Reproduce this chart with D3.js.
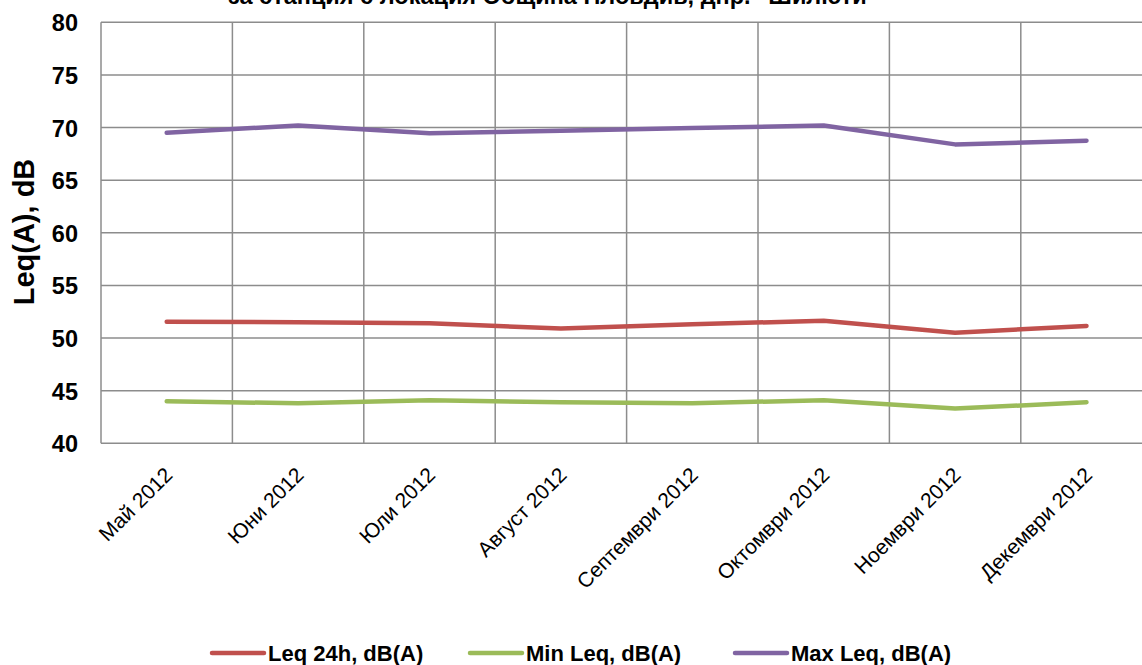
<!DOCTYPE html>
<html><head><meta charset="utf-8">
<script src="https://cdn.jsdelivr.net/npm/d3@7"></script>
<style>
html,body{margin:0;padding:0;background:#fff;overflow:hidden}
svg{display:block;font-family:"Liberation Sans",Arial,sans-serif}
</style></head>
<body>
<svg id="chart" width="1142" height="665"></svg>
<script>
const titleLine = 'за станция с локация Община Пловдив, днр. "Шилюти"';
const yTitle = "Leq(A), dB";
const categories = ["Май 2012","Юни 2012","Юли 2012","Август 2012","Септември 2012","Октомври 2012","Ноември 2012","Декември 2012"];
const leq24 = [51.55, 51.5, 51.4, 50.9, 51.3, 51.65, 50.5, 51.15];
const minLeq = [44.0, 43.8, 44.1, 43.9, 43.8, 44.1, 43.3, 43.9];
const maxLeq = [69.5, 70.2, 69.45, 69.7, 69.95, 70.2, 68.4, 68.75];
const seriesNames = ["Leq 24h, dB(A)", "Min Leq, dB(A)", "Max Leq, dB(A)"];
const seriesColors = ["#C0504D", "#9BBB59", "#8064A2"];
const yTicks = [40,45,50,55,60,65,70,75,80];

const series = [leq24, minLeq, maxLeq].map((v,i)=>({name:seriesNames[i], color:seriesColors[i], values:v}));

const svg = d3.select("#chart");
const pLeft = 101, pTop = 22.3, pBottom = 443.3, pRight = 101 + 8*131.4;

const x = d3.scaleBand().domain(categories).range([pLeft, pRight]).padding(0);
const y = d3.scaleLinear().domain([40, 80]).range([pBottom, pTop]);

// title (partially cut off at top, as in the reference)
svg.append("text").attr("x", 553).attr("y", 4).attr("text-anchor","middle")
  .attr("font-size", 23.5).attr("font-weight","bold").attr("fill","#000").text(titleLine);

// horizontal gridlines
svg.append("g").selectAll("line").data(yTicks).join("line")
  .attr("x1", pLeft).attr("x2", pRight)
  .attr("y1", d=>y(d)).attr("y2", d=>y(d))
  .attr("stroke", "#8c8c8c").attr("stroke-width", 1.5);

// vertical gridlines (category boundaries)
svg.append("g").selectAll("line").data(categories).join("line")
  .attr("x1", d=>x(d)).attr("x2", d=>x(d))
  .attr("y1", pTop).attr("y2", pBottom)
  .attr("stroke", "#8c8c8c").attr("stroke-width", 1.5);

// y axis
const yAxis = d3.axisLeft(y).tickValues(yTicks).tickSize(0).tickPadding(0);
const gy = svg.append("g").attr("transform", `translate(${pLeft},0)`).call(yAxis);
gy.select(".domain").remove();
gy.selectAll("text").attr("x", -23).attr("font-size", 23.5).attr("font-weight","bold")
  .attr("fill","#000").attr("font-family",'"Liberation Sans",Arial,sans-serif').attr("dy","0.36em");

// y title
svg.append("text").attr("transform", "translate(34,232) rotate(-90)")
  .attr("text-anchor","middle").attr("font-size", 29).attr("font-weight","bold")
  .attr("fill","#000").text(yTitle);

// x axis labels
const xAxis = d3.axisBottom(x).tickSize(0).tickPadding(0);
const gx = svg.append("g").attr("transform", `translate(0,${pBottom})`).call(xAxis);
gx.select(".domain").remove();
gx.selectAll(".tick text")
  .attr("font-size", 21).attr("fill","#000").attr("font-family",'"Liberation Sans",Arial,sans-serif')
  .attr("text-anchor","end").attr("y", 0).attr("dy", 0)
  .attr("transform", "translate(7,33) rotate(-45)");

// lines
const line = d3.line().x((d,i)=>x(categories[i]) + x.bandwidth()/2).y(d=>y(d));
svg.append("g").selectAll("path").data(series).join("path")
  .attr("d", d=>line(d.values)).attr("fill","none")
  .attr("stroke", d=>d.color).attr("stroke-width", 4.5)
  .attr("stroke-linecap","round").attr("stroke-linejoin","round");

// legend
const legendX = [212, 470, 735];
const lg = svg.append("g").selectAll("g").data(series).join("g")
  .attr("transform", (d,i)=>`translate(${legendX[i]},653)`);
lg.append("line").attr("x1", 0).attr("x2", 52).attr("y1",0).attr("y2",0)
  .attr("stroke", d=>d.color).attr("stroke-width", 4.5).attr("stroke-linecap","round");
lg.append("text").attr("x", 56).attr("y", 0).attr("dy","0.36em")
  .attr("font-size", 22).attr("font-weight","bold").attr("fill","#000").text(d=>d.name);
</script>
</body></html>
